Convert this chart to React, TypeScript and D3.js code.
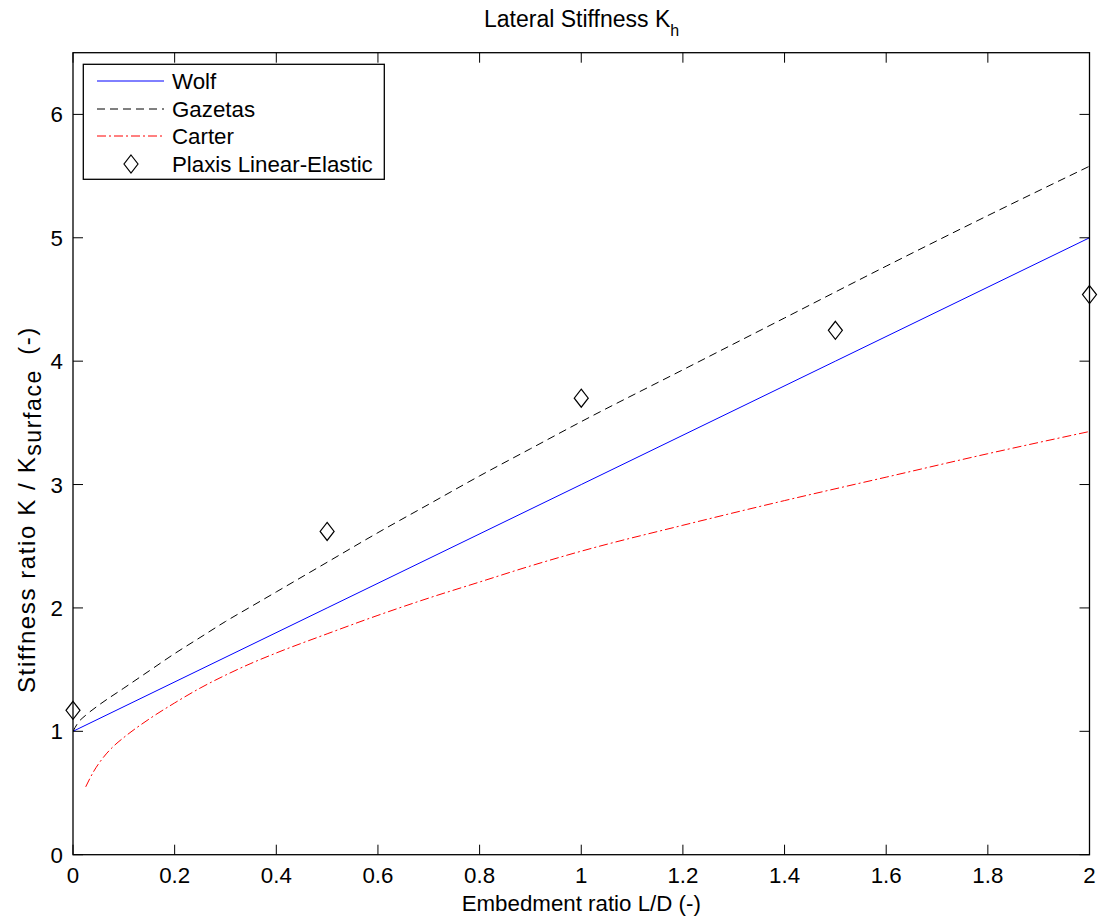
import React from "react";
import * as d3 from "d3";

const xTicks = [0, 0.2, 0.4, 0.6, 0.8, 1, 1.2, 1.4, 1.6, 1.8, 2];
const yTicks = [0, 1, 2, 3, 4, 5, 6];

const wolfX = [0, 0.5, 1, 1.5, 2];
const wolfY = [1, 2, 3, 4, 5];

const gazetasX = [0, 0.01, 0.025, 0.05, 0.1, 0.15, 0.2, 0.25, 0.3, 0.35, 0.4, 0.5, 0.6, 0.7, 0.8, 0.9, 1.0, 1.2, 1.4, 1.6, 1.8, 2.0];
const gazetasY = [1.0, 1.07, 1.13, 1.21, 1.35, 1.49, 1.63, 1.76, 1.89, 2.01, 2.13, 2.37, 2.61, 2.84, 3.07, 3.29, 3.51, 3.93, 4.35, 4.77, 5.18, 5.58];

const carterX = [0.025, 0.04, 0.06, 0.08, 0.1, 0.15, 0.2, 0.25, 0.3, 0.35, 0.4, 0.5, 0.6, 0.7, 0.8, 0.9, 1.0, 1.2, 1.4, 1.6, 1.8, 2.0];
const carterY = [0.55, 0.67, 0.79, 0.88, 0.95, 1.1, 1.23, 1.35, 1.455, 1.55, 1.635, 1.79, 1.94, 2.08, 2.21, 2.34, 2.46, 2.67, 2.87, 3.06, 3.25, 3.43];

const plaxisX = [0, 0.5, 1, 1.5, 2];
const plaxisY = [1.17, 2.62, 3.7, 4.25, 4.54];

const FONT = "'Liberation Sans', Arial, Helvetica, sans-serif";

export default function App() {
  const L = 73, R = 1089.5, T = 52.7, B = 854.7;
  const x = d3.scaleLinear().domain([0, 2]).range([L, R]);
  const y = d3.scaleLinear().domain([0, 6.5]).range([B, T]);
  const line = d3.line<[number, number]>().x(d => x(d[0])).y(d => y(d[1])).curve(d3.curveMonotoneX);
  const zip = (a: number[], b: number[]) => a.map((v, i) => [v, b[i]] as [number, number]);
  const fs = 22.3;
  const tick = 10;
  const diamond = (cx: number, cy: number) =>
    `M${cx},${cy - 9}L${cx + 7},${cy}L${cx},${cy + 9}L${cx - 7},${cy}Z`;

  const legendItems = [
    { label: "Wolf", type: "line", color: "#0000ff", dash: "" },
    { label: "Gazetas", type: "line", color: "#000", dash: "8,5" },
    { label: "Carter", type: "line", color: "#ff0000", dash: "9,3,2,3" },
    { label: "Plaxis Linear-Elastic", type: "marker", color: "#000", dash: "" },
  ];
  const legendYs = [81, 109, 136, 164];

  return (
    <svg width={1100} height={918} style={{ position: "absolute", left: 0, top: 0, background: "#fff" }}
      fontFamily={FONT}>
      <rect x={0} y={0} width={1100} height={918} fill="#fff" />
      {/* title */}
      <text x={484} y={27} fontSize={23} fill="#000">
        Lateral Stiffness K<tspan fontSize={16} dy={9}>h</tspan>
      </text>
      {/* plot lines */}
      <defs>
        <clipPath id="clip"><rect x={L} y={T} width={R - L} height={B - T} /></clipPath>
      </defs>
      <g clipPath="url(#clip)" fill="none">
        <path d={line(zip(wolfX, wolfY)) || ""} stroke="#0000ff" strokeWidth={1} />
        <path d={line(zip(gazetasX, gazetasY)) || ""} stroke="#000" strokeWidth={1} strokeDasharray="8,5" />
        <path d={line(zip(carterX, carterY)) || ""} stroke="#ff0000" strokeWidth={1} strokeDasharray="9,3,2,3" />
      </g>
      {plaxisX.map((v, i) => (
        <path key={i} d={diamond(x(v), y(plaxisY[i]))} fill="none" stroke="#000" strokeWidth={1.2} />
      ))}
      {/* axes box */}
      <rect x={L} y={T} width={R - L} height={B - T} fill="none" stroke="#000" strokeWidth={1.3} />
      {xTicks.map(t => (
        <g key={"x" + t}>
          <line x1={x(t)} x2={x(t)} y1={B} y2={B - tick} stroke="#000" />
          <line x1={x(t)} x2={x(t)} y1={T} y2={T + tick} stroke="#000" />
          <text x={x(t)} y={883} fontSize={fs} textAnchor="middle" fill="#000">{t}</text>
        </g>
      ))}
      {yTicks.map(t => (
        <g key={"y" + t}>
          <line x1={L} x2={L + tick} y1={y(t)} y2={y(t)} stroke="#000" />
          <line x1={R} x2={R - tick} y1={y(t)} y2={y(t)} stroke="#000" />
          <text x={63} y={y(t) + 8} fontSize={fs} textAnchor="end" fill="#000">{t}</text>
        </g>
      ))}
      {/* axis labels */}
      <text x={(L + R) / 2} y={911} fontSize={fs} textAnchor="middle" fill="#000">Embedment ratio L/D (-)</text>
      <text transform="translate(35,693) rotate(-90)" fontSize={24} letterSpacing={1.6} fill="#000">
        Stiffness ratio K / K<tspan fontSize={23} dy={6}>surface</tspan><tspan dy={-6} dx={6}> (-)</tspan>
      </text>
      {/* legend */}
      <rect x={83.3} y={64.3} width={301} height={115} fill="#fff" stroke="#000" strokeWidth={1.3} />
      {legendItems.map((it, i) => (
        <g key={it.label}>
          {it.type === "line" ? (
            <line x1={97} x2={164} y1={legendYs[i]} y2={legendYs[i]} stroke={it.color}
              strokeDasharray={it.dash || undefined} strokeWidth={1} />
          ) : (
            <path d={diamond(131, legendYs[i])} fill="none" stroke="#000" strokeWidth={1.2} />
          )}
          <text x={172} y={legendYs[i] + 8} fontSize={fs} fill="#000">{it.label}</text>
        </g>
      ))}
    </svg>
  );
}
